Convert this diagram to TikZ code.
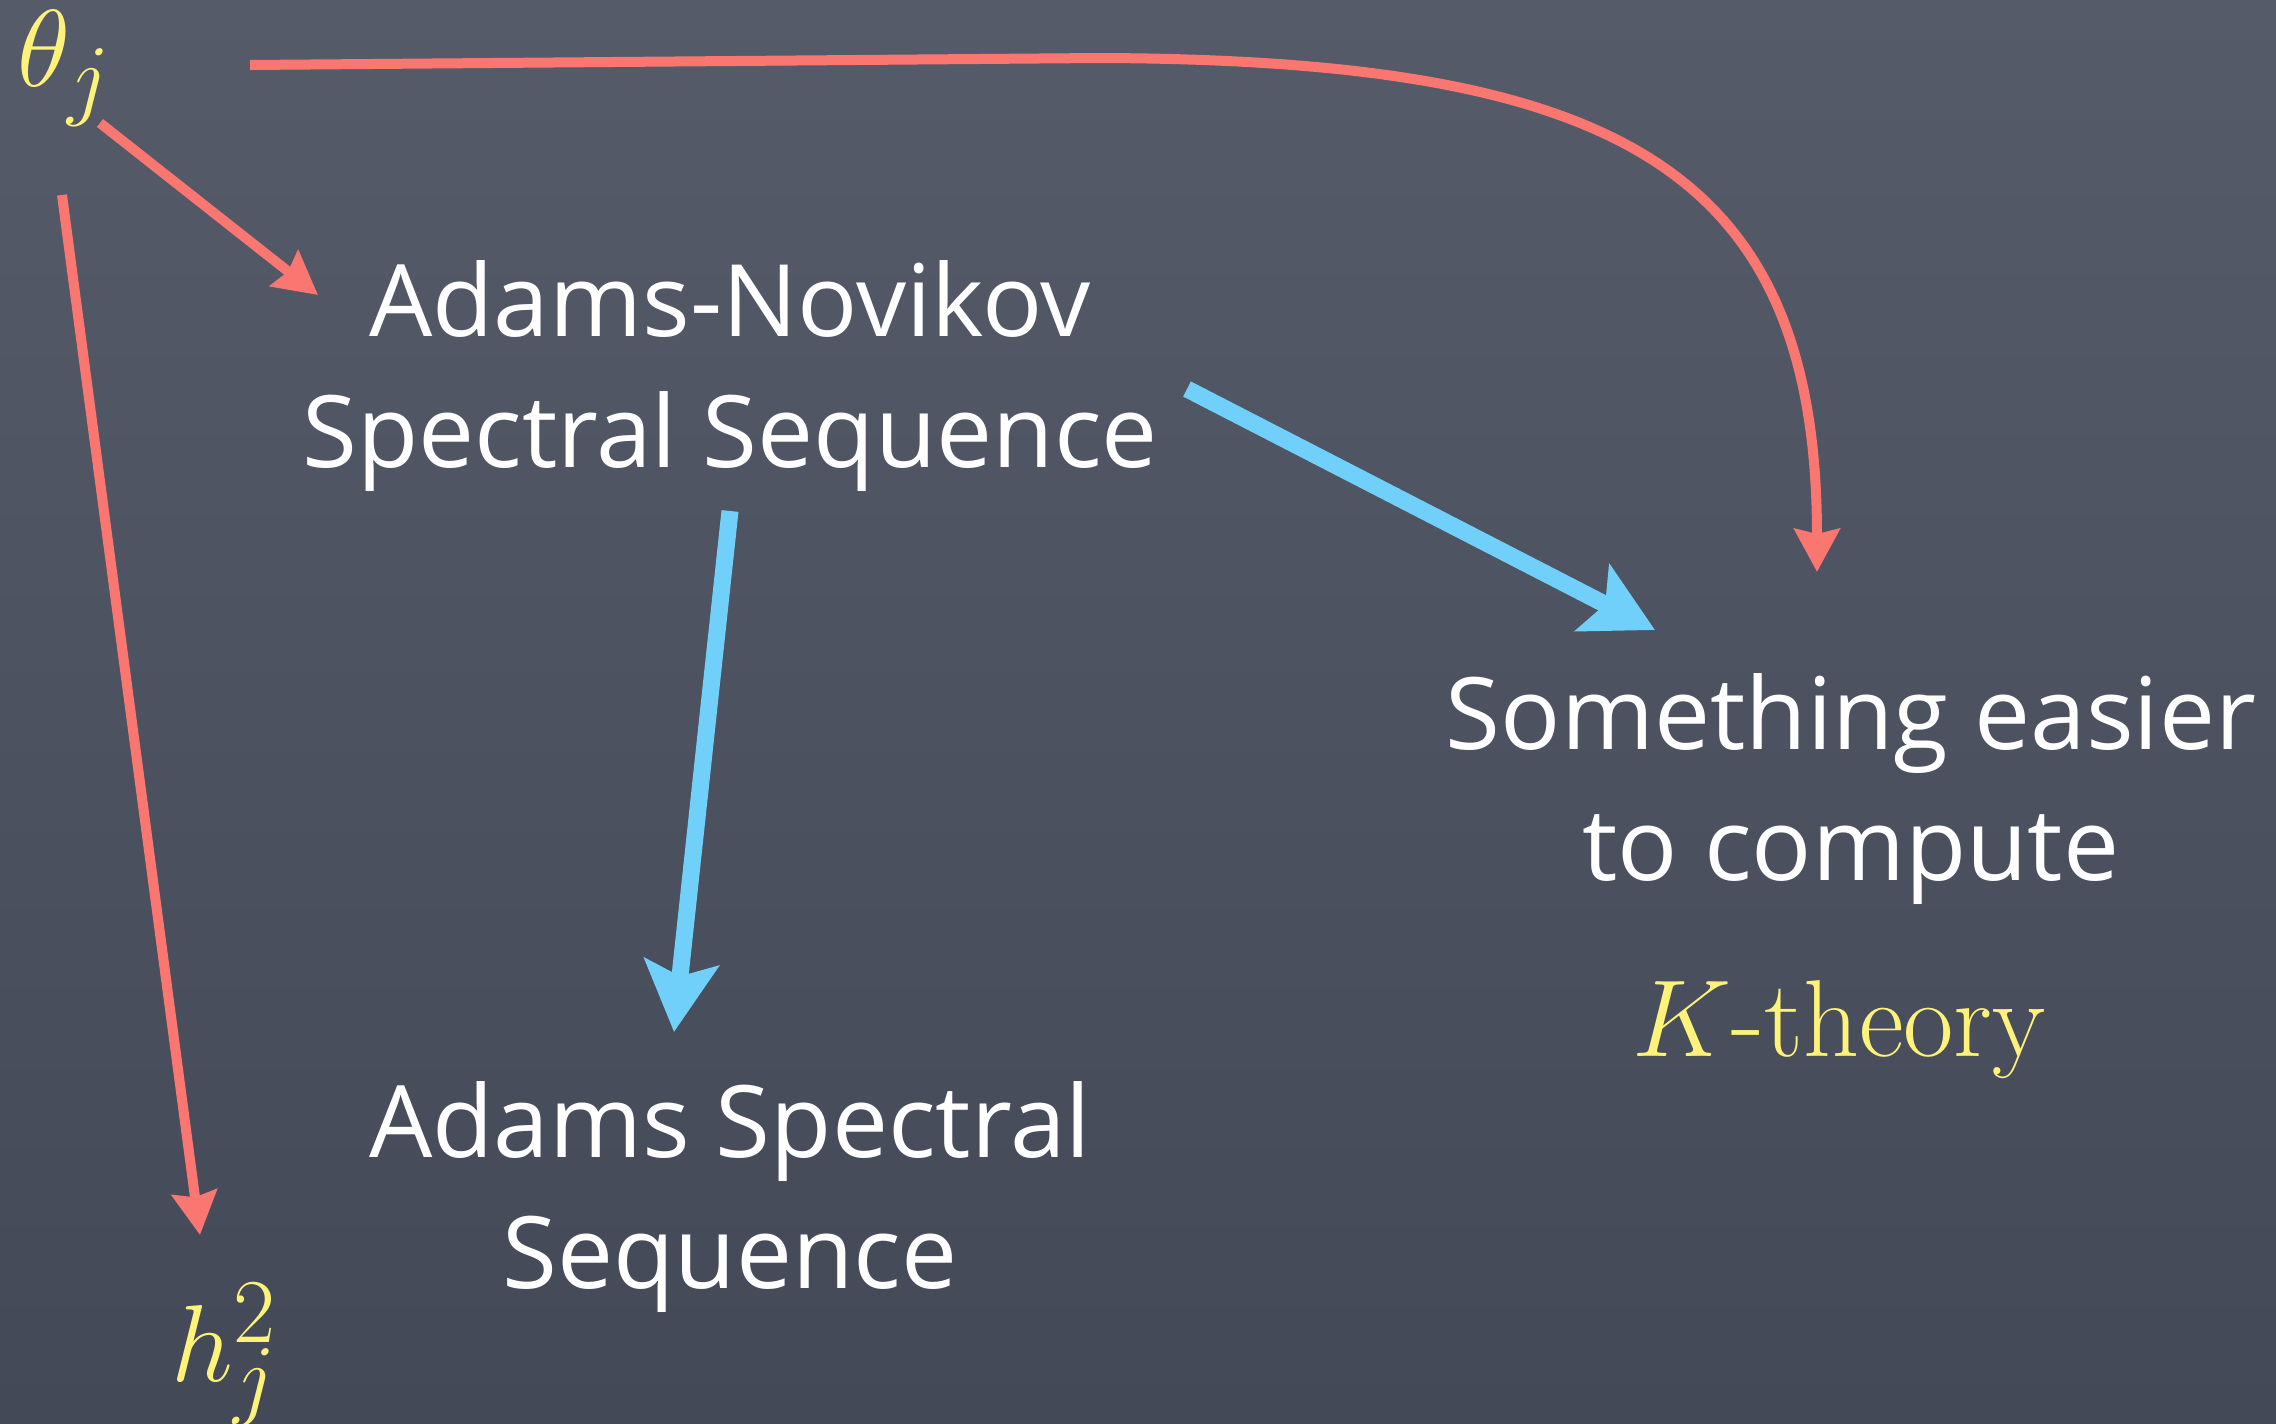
\documentclass[tikz,border=0pt]{standalone}
\usepackage{fontspec}
\newfontfamily\chalk{Open Sans}
\usetikzlibrary{arrows.meta,calc}
\definecolor{bgtop}{RGB}{86,91,106}
\definecolor{bgbot}{RGB}{68,73,87}
\definecolor{redline}{RGB}{250,118,112}
\definecolor{blueline}{RGB}{112,208,250}
\definecolor{yell}{RGB}{255,242,122}
\tikzset{
  white text/.style={text=white,font=\chalk\fontsize{100}{131}\selectfont,align=center,inner sep=0pt},
  mathlabel/.style={text=yell,font=\Huge,scale=4.4,inner sep=0pt},
  redarrow/.style={draw=redline,line width=10pt,-{Stealth[length=43pt,width=45pt,inset=5pt]}},
  bluearrow/.style={draw=blueline,line width=17pt,-{Stealth[length=70pt,width=74pt,inset=14pt]}}
}
\begin{document}
\begin{tikzpicture}[x=1pt,y=-1pt]
\shade[top color=bgtop,bottom color=bgbot] (0,0) rectangle (2276,1424);
\useasboundingbox (0,0) rectangle (2276,1424);
\node[mathlabel] (theta) at (65,68) {$\theta_j$};
\node[mathlabel] (h) at (225,1355) {$h_j^2$};
\node[white text] (anss) at (730,376) {Adams-Novikov\\Spectral Sequence};
\node[white text] (ass) at (730,1197) {Adams Spectral\\Sequence};
\node[white text] (easy) at (1851,789) {Something easier\\to compute};
\node[mathlabel] (kth) at (1839,1030) {$K$-theory};
% red arrows
\draw[redarrow] ($(theta)+(35,55)$) -- ($(anss)+(-412,-81)$);
\draw[redarrow] ($(theta)+(-3,127)$) -- ($(h)+(-25,-120)$);
\draw[redarrow] ($(theta)+(185,-3)$) -- (1100,58) .. controls (1620,60) and ($(easy)+(-34,-619)$) .. ($(easy)+(-34,-217)$);
% blue arrows
\draw[bluearrow] ($(anss)+(0,135)$) -- ($(ass)+(-56,-165)$);
\draw[bluearrow] ($(anss)+(457,13)$) -- ($(easy)+(-196,-159)$);
\end{tikzpicture}
\end{document}
